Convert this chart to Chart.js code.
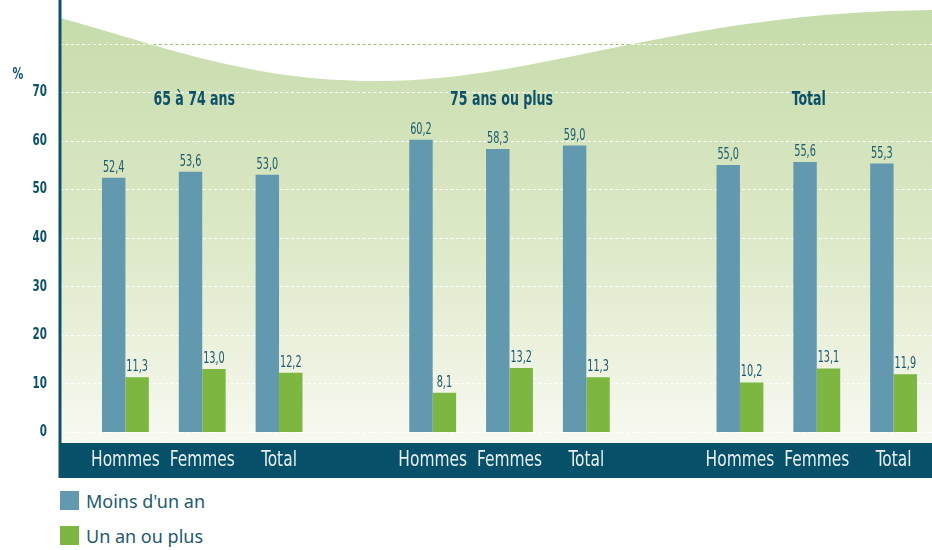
<!DOCTYPE html>
<html lang="fr">
<head>
<meta charset="utf-8">
<title>Durée depuis la dernière visite</title>
<script src="https://cdn.jsdelivr.net/npm/chart.js@4/dist/chart.umd.min.js"></script>
<style>
  body { margin:0; background:#fff; }
  #wrap { position:relative; width:932px; height:480px; }
  #legend { margin:3px 0 0 60px; font-family:'Noto Sans','Open Sans',sans-serif; font-size:18px; color:#1d5a6d; }
  #legend div { display:flex; align-items:center; height:35px; }
  #legend span.sw { display:inline-block; width:19px; height:19px; margin-right:7px; }
</style>
</head>
<body>
<div id="wrap"><canvas id="chart"></canvas></div>
<div id="legend"></div>
<script>
// data
const categories = ['Hommes','Femmes','Total','','Hommes','Femmes','Total','','Hommes','Femmes','Total'];
const moinsUnAn  = [52.4, 53.6, 53.0, null, 60.2, 58.3, 59.0, null, 55.0, 55.6, 55.3];
const unAnOuPlus = [11.3, 13.0, 12.2, null,  8.1, 13.2, 11.3, null, 10.2, 13.1, 11.9];
const seriesNames = ["Moins d'un an", 'Un an ou plus'];
const groupTitles = ['65 à 74 ans', '75 ans ou plus', 'Total'];
const groupMiddle = [1, 5, 9]; // index of the category under each title
const yTickValues = [0, 10, 20, 30, 40, 50, 60, 70];
const gridValues = [0, 10, 20, 30, 40, 50, 60, 70, 80];

const BLUE = '#6299ae', GREEN = '#7db640', TEAL = '#0e5068', BAND = '#06506a';
const COND = "'DejaVu Sans Condensed','DejaVu Sans',sans-serif";
const AXIS_X = 60; // left axis line

const fmt = v => v.toFixed(1).replace('.', ',');

// draws text squeezed horizontally (the original uses a very narrow face)
function narrowText(ctx, text, x, y, sx){
  ctx.save();
  ctx.translate(x, y);
  ctx.scale(sx, 1);
  ctx.fillText(text, 0, 0);
  ctx.restore();
}

function wavePath(ctx, a, width, bottom){
  ctx.beginPath();
  ctx.moveTo(AXIS_X, 18);
  ctx.bezierCurveTo(160, 45, 250, 82, 380, 81);
  ctx.bezierCurveTo(540, 81, 680, 12, width, 10);
  ctx.lineTo(width, bottom);
  ctx.lineTo(AXIS_X, bottom);
  ctx.closePath();
}

const decor = {
  id: 'decor',
  beforeDraw(chart){
    const {ctx, chartArea:a, width} = chart;
    ctx.save();
    const g = ctx.createLinearGradient(0, 0, 0, a.bottom + 11);
    g.addColorStop(0, '#c5dbaa');
    g.addColorStop(0.55, '#dde9c8');
    g.addColorStop(1, '#f8f9f1');
    wavePath(ctx, a, width, a.bottom + 11);
    ctx.fillStyle = g;
    ctx.fill();
    // dark band behind the category labels
    ctx.fillStyle = BAND;
    ctx.fillRect(AXIS_X, a.bottom + 11, width - AXIS_X, 35);
    ctx.restore();
  },
  beforeDatasetsDraw(chart){
    // dashed grid lines, full width from the axis line
    const {ctx, chartArea:a, width, scales:{y}} = chart;
    ctx.save();
    ctx.lineWidth = 1;
    ctx.setLineDash([3, 2.5]);
    gridValues.forEach(v => {
      const yy = Math.round(y.getPixelForValue(v)) + 0.5;
      if (v === 80) {
        // sits partly above the wave: green on white, white inside the wave
        ctx.strokeStyle = '#9cc66f';
        ctx.beginPath(); ctx.moveTo(AXIS_X, yy); ctx.lineTo(width, yy); ctx.stroke();
        ctx.save();
        wavePath(ctx, a, width, a.bottom);
        ctx.clip();
        ctx.strokeStyle = '#ffffff';
        ctx.beginPath(); ctx.moveTo(AXIS_X, yy); ctx.lineTo(width, yy); ctx.stroke();
        ctx.restore();
      } else {
        ctx.strokeStyle = '#ffffff';
        ctx.beginPath(); ctx.moveTo(AXIS_X, yy); ctx.lineTo(width, yy); ctx.stroke();
      }
    });
    ctx.restore();
  },
  afterDatasetsDraw(chart){
    const {ctx} = chart;
    ctx.save();
    ctx.fillStyle = '#1d5a6d';
    ctx.font = '15px ' + COND;
    ctx.textAlign = 'center'; ctx.textBaseline = 'alphabetic';
    chart.data.datasets.forEach((ds, di) => {
      chart.getDatasetMeta(di).data.forEach((bar, i) => {
        const v = ds.data[i];
        if (v == null) return;
        narrowText(ctx, fmt(v), bar.x, bar.y - 6, 0.72);
      });
    });
    ctx.restore();
  },
  afterDraw(chart){
    const {ctx, chartArea:a, scales:{x, y}} = chart;
    ctx.save();
    // left axis line
    ctx.strokeStyle = TEAL; ctx.lineWidth = 3;
    ctx.beginPath(); ctx.moveTo(AXIS_X, 0); ctx.lineTo(AXIS_X, a.bottom + 46); ctx.stroke();

    ctx.fillStyle = TEAL;
    ctx.textAlign = 'right'; ctx.textBaseline = 'middle';
    // y tick labels
    ctx.font = 'bold 16px ' + COND;
    yTickValues.forEach(v => narrowText(ctx, String(v), 47, y.getPixelForValue(v), 0.72));
    // % unit
    ctx.font = 'bold 15px ' + COND;
    ctx.textAlign = 'center';
    narrowText(ctx, '%', 18, 75, 0.8);
    // group titles
    ctx.font = 'bold 20px ' + COND;
    groupTitles.forEach((t, i) => {
      narrowText(ctx, t, x.getPixelForValue(groupMiddle[i]) - 8, y.getPixelForValue(68.4), 0.7);
    });
    // category labels in the band
    ctx.fillStyle = '#e8eff1';
    ctx.font = '22px ' + COND;
    x.ticks.forEach((t, i) => {
      const lab = x.getLabelForValue(t.value);
      if (lab) narrowText(ctx, lab, x.getPixelForValue(i), a.bottom + 28, 0.78);
    });
    ctx.restore();
  }
};

const chart = new Chart(document.getElementById('chart'), {
  type: 'bar',
  data: {
    labels: categories,
    datasets: [
      { label: seriesNames[0], data: moinsUnAn, backgroundColor: BLUE },
      { label: seriesNames[1], data: unAnOuPlus, backgroundColor: GREEN }
    ]
  },
  options: {
    responsive: true,
    maintainAspectRatio: false,
    animation: false,
    layout: { padding: 0 },
    categoryPercentage: 0.61,
    barPercentage: 1.0,
    plugins: { legend: { display: false }, tooltip: { enabled: false } },
    scales: {
      x: {
        afterFit: s => { s.height = 48; s.paddingLeft = 0; s.paddingRight = 0; },
        grid: { display: false, drawTicks: false },
        border: { display: false },
        ticks: { display: false, autoSkip: false }
      },
      y: {
        min: 0, max: 89,
        afterFit: s => { s.width = 87; s.paddingTop = 0; s.paddingBottom = 0; },
        grid: { display: false, drawTicks: false },
        border: { display: false },
        ticks: { display: false, stepSize: 10 }
      }
    }
  },
  plugins: [decor]
});

// legend below the chart
document.getElementById('legend').innerHTML = chart.data.datasets.map(ds =>
  `<div><span class="sw" style="background:${ds.backgroundColor}"></span>${ds.label}</div>`).join('');
</script>
</body>
</html>
